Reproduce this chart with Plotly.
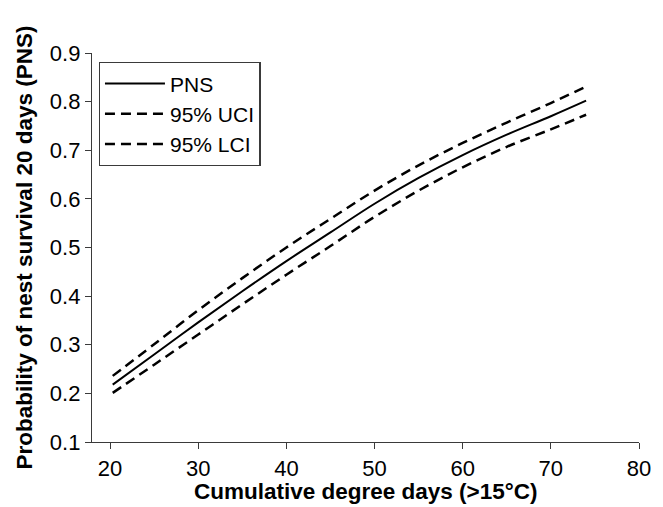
import plotly.graph_objects as go

# Data
cdd = [20.3, 25, 30, 35, 40, 45, 50, 55, 60, 65, 70, 74]
pns = [0.218, 0.280, 0.346, 0.410, 0.472, 0.531, 0.590, 0.643, 0.690, 0.732, 0.770, 0.802]
uci = [0.236, 0.301, 0.371, 0.437, 0.500, 0.559, 0.617, 0.669, 0.715, 0.757, 0.797, 0.831]
lci = [0.201, 0.259, 0.321, 0.383, 0.444, 0.503, 0.563, 0.617, 0.665, 0.707, 0.743, 0.773]

x_ticks = [20, 30, 40, 50, 60, 70, 80]
y_ticks = [0.1, 0.2, 0.3, 0.4, 0.5, 0.6, 0.7, 0.8, 0.9]

x_title = "Cumulative degree days (>15°C)"
y_title = "Probability of nest survival 20 days (PNS)"

FONT = "Liberation Sans, Arial, sans-serif"

fig = go.Figure()
fig.add_trace(go.Scatter(x=cdd, y=pns, mode="lines", name="PNS",
                         line=dict(color="black", width=2, shape="spline", smoothing=1.0)))
fig.add_trace(go.Scatter(x=cdd, y=uci, mode="lines", name="95% UCI",
                         line=dict(color="black", width=2.5, dash="10px,6px", shape="spline", smoothing=1.0)))
fig.add_trace(go.Scatter(x=cdd, y=lci, mode="lines", name="95% LCI",
                         line=dict(color="black", width=2.5, dash="10px,6px", shape="spline", smoothing=1.0)))

axis_common = dict(showgrid=False, zeroline=False, showline=True, linecolor="#3a3a3a",
                   linewidth=1.4, ticks="outside", ticklen=6, tickwidth=1.4, tickcolor="#3a3a3a",
                   tickfont=dict(family=FONT, size=22, color="black"), mirror=False)

# the page body adds an 8px offset, so the figure is 8px smaller and margins are shifted
fig.update_layout(
    width=655, height=499,
    margin=dict(l=84, r=15, t=45, b=65),
    paper_bgcolor="white", plot_bgcolor="white",
    font=dict(family=FONT, color="black"),
    xaxis=dict(range=[17.95, 80], tickvals=x_ticks, **axis_common),
    yaxis=dict(range=[0.1, 0.9], tickvals=y_ticks, tickformat=".1f",
               title=dict(text="<b>" + y_title + "</b>",
                          font=dict(family=FONT, size=22.5, color="black"), standoff=10),
               **axis_common),
    legend=dict(x=0.012, y=0.977, xanchor="left", yanchor="top",
                bordercolor="#3a3a3a", borderwidth=1.4, bgcolor="white",
                font=dict(family=FONT, size=21, color="black"),
                itemwidth=60, tracegroupgap=0),
    showlegend=True,
)

fig.add_annotation(text="<b>" + x_title + "</b>", xref="paper", yref="paper",
                   x=0.5, y=-0.127, xanchor="center", yanchor="middle", showarrow=False,
                   font=dict(family=FONT, size=22.5, color="black"))

fig.write_html("out.html")
